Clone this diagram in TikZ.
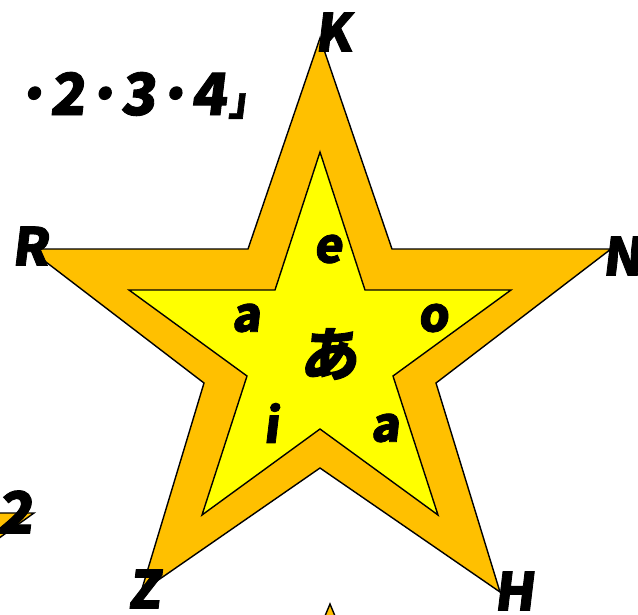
\documentclass[tikz,border=0pt]{standalone}
\usepackage{fontspec}
\newfontfamily\jp[FakeSlant=0.12,FakeBold=1.6]{Noto Sans CJK JP}
\definecolor{starorange}{HTML}{FFC000}
\definecolor{staryellow}{HTML}{FFFF00}
\tikzset{
  outerstar/.style={fill=starorange,draw=black,line width=1.4pt,line join=miter},
  innerstar/.style={fill=staryellow,draw=black,line width=1.4pt,line join=miter},
  biglab/.style={font=\jp\bfseries\fontsize{52}{52}\selectfont,inner sep=0pt},
  smalllab/.style={font=\jp\bfseries\fontsize{48}{48}\selectfont,inner sep=0pt},
}
\begin{document}
\begin{tikzpicture}[x=1pt,y=-1pt]
\useasboundingbox (0,0) rectangle (638,614);
% outer star
\path[outerstar] (320,38) -- (392,249) -- (611,249) -- (436,383) -- (500,592) -- (320,468) -- (141,592) -- (204,383) -- (29,249) -- (248,249) -- cycle;
% inner star
\path[innerstar] (320,152) -- (365,290) -- (511,290) -- (393,376) -- (438,515) -- (320,429) -- (202,515) -- (247,376) -- (129,290) -- (275,290) -- cycle;
% fragments at edges
\path[outerstar] (-5,513) -- (34,513) -- (-5,541) -- cycle;
\path[outerstar] (325,616) -- (330,604) -- (335,616) -- cycle;
% labels
\node[biglab] (K) at (333,32) {K};
\node[biglab] (R) at (30,246) {R};
\node[biglab] (N) at (622,256) {N};
\node[biglab] (Z) at (144,589) {Z};
\node[biglab] (H) at (514,591) {H};
\node[biglab,font=\jp\bfseries\fontsize{58}{58}\selectfont] (two) at (15,512) {2};
\node[biglab,font=\jp\bfseries\fontsize{58}{58}\selectfont,anchor=base west] (seq) at (14,115) {·2·3·4\fontsize{40}{40}\selectfont\kern2pt 」};
\node[smalllab] (e) at (328,249) {e};
\node[smalllab] (a1) at (246,318) {a};
\node[smalllab] (o) at (433,318) {o};
\node[smalllab] (i) at (271,423) {i};
\node[smalllab] (a2) at (385,428) {a};
\node[font=\jp\bfseries\fontsize{58}{58}\selectfont,inner sep=0pt] (A) at (329,354) {あ};
\end{tikzpicture}
\end{document}
